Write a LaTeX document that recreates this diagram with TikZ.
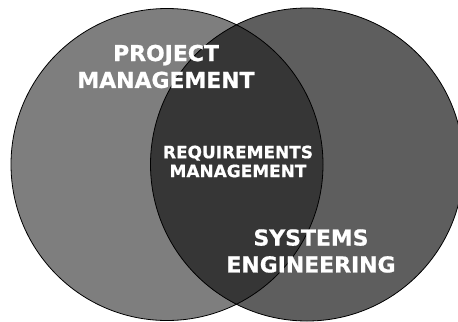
\documentclass[tikz,border=0pt]{standalone}
\usepackage{fontspec}
\setmainfont{DejaVu Sans}
\newfontfamily\vennfont[FakeBold=0.8]{DejaVu Sans Bold}
\usepackage{tikz}
\usetikzlibrary{positioning}

\definecolor{pmgray}{RGB}{126,126,126}
\definecolor{segray}{RGB}{94,94,94}
\definecolor{rmgray}{RGB}{54,54,54}

\begin{document}
\begin{tikzpicture}[x=1bp,y=1bp,
  big text/.style={text=white,font=\vennfont\fontsize{22}{27}\selectfont,align=center,inner sep=0pt},
  small text/.style={text=white,font=\vennfont\fontsize{17}{19}\selectfont,align=center,inner sep=0pt}]

\useasboundingbox (0,0) rectangle (458,321);
\clip (0,0) rectangle (458,321);

\coordinate (pm) at (167,156.5);
\coordinate (se) at (307,156.5);

\fill[pmgray] (pm) circle (156);
\fill[segray] (se) circle (156.5);
\begin{scope}
\clip (pm) circle (156);
\fill[rmgray] (se) circle (156.5);
\end{scope}
\draw[line width=0.8bp] (pm) circle (156);
\draw[line width=0.8bp] (se) circle (156.5);

\node[big text] (pm label) at (166,254.5) {PROJECT\\MANAGEMENT};
\node[small text] (rm label) at (238,159.5) {REQUIREMENTS\\MANAGEMENT};
\node[big text] (se label) at (311,70) {SYSTEMS\\ENGINEERING};
\end{tikzpicture}
\end{document}
